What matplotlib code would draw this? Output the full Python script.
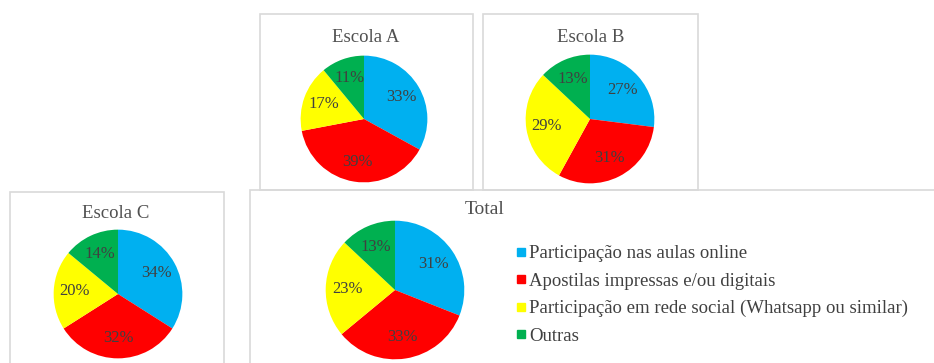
import matplotlib.pyplot as plt
from matplotlib.patches import Rectangle
from matplotlib.lines import Line2D

plt.rcParams['font.family'] = ['Liberation Serif', 'DejaVu Serif']

categories = [
    "Participação nas aulas online",
    "Apostilas impressas e/ou digitais",
    "Participação em rede social (Whatsapp ou similar)",
    "Outras",
]
escola_a = [33, 39, 17, 11]
escola_b = [27, 31, 29, 13]
escola_c = [34, 32, 20, 14]
total = [31, 33, 23, 13]
colors = ["#00B0F0", "#FF0000", "#FFFF00", "#00B050"]

W, H = 934, 363
fig = plt.figure(figsize=(W / 100, H / 100), dpi=100)
fig.patch.set_facecolor("white")

text_color = "#404040"
title_color = "#505050"
border = "#d9d9d9"


def frame(x0, y0, x1, y1):
    fig.patches.append(Rectangle((x0 / W, 1 - y1 / H), (x1 - x0) / W, (y1 - y0) / H,
                                 transform=fig.transFigure, fill=False,
                                 edgecolor=border, lw=1.2))


def pie(values, cx, cy, r, title, tx, ty, tsize=13.5):
    ax = fig.add_axes([(cx - r) / W, 1 - (cy + r) / H, 2 * r / W, 2 * r / H])
    ax.pie(values, colors=colors, startangle=90, counterclock=False,
           autopct='%.0f%%', pctdistance=0.68,
           textprops=dict(fontsize=12, color=text_color))
    ax.set_xlim(-1.01, 1.01)
    ax.set_ylim(-1.01, 1.01)
    ax.set_aspect('equal')
    ax.axis('off')
    fig.text(tx / W, 1 - ty / H, title, ha='center', va='center',
             fontsize=tsize, color=title_color)
    return ax


# panel frames
frame(260, 14, 473, 190)
frame(483, 14, 698, 190)
frame(10, 192, 224, 372)
frame(250, 190, 940, 372)

pie(escola_a, 364, 119, 64, "Escola A", 366, 38)
pie(escola_b, 590, 119, 65, "Escola B", 591, 38)
pie(escola_c, 118, 294, 65, "Escola C", 116, 213)
pie(total, 395, 290, 70, "Total", 485, 210, tsize=14)

handles = [Line2D([], [], marker='s', linestyle='none', markersize=5.5,
                  markerfacecolor=c, markeredgecolor=c) for c in colors]
fig.legend(handles, categories, loc='upper left',
           bbox_to_anchor=(516 / W, 1 - 245 / H), frameon=False,
           fontsize=13.5, labelcolor=text_color, handlelength=0.5,
           handletextpad=0.2, labelspacing=0.55, borderpad=0, borderaxespad=0)

fig.savefig("out.png", dpi=100, facecolor="white")
